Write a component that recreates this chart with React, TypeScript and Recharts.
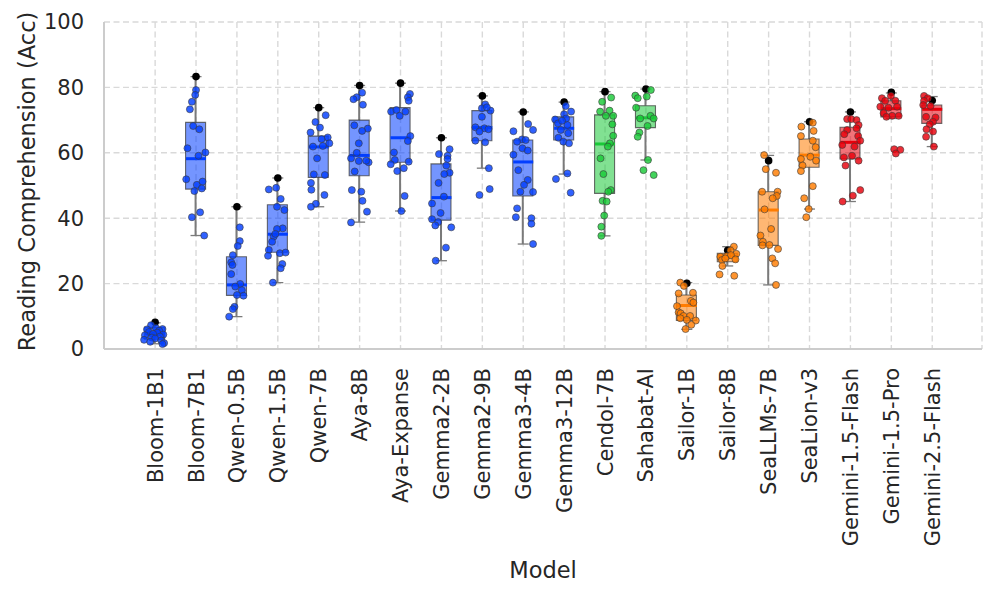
import React from 'react';
import { ComposedChart, XAxis, YAxis, CartesianGrid, Bar, Scatter, Cell } from 'recharts';

const models = [
  'Bloom-1B1', 'Bloom-7B1', 'Qwen-0.5B', 'Qwen-1.5B', 'Qwen-7B', 'Aya-8B', 'Aya-Expanse',
  'Gemma2-2B', 'Gemma2-9B', 'Gemma3-4B', 'Gemma3-12B', 'Cendol-7B', 'Sahabat-AI',
  'Sailor-1B', 'Sailor-8B', 'SeaLLMs-7B', 'SeaLion-v3', 'Gemini-1.5-Flash', 'Gemini-1.5-Pro', 'Gemini-2.5-Flash',
];
const family = [
  'blue', 'blue', 'blue', 'blue', 'blue', 'blue', 'blue', 'blue', 'blue', 'blue', 'blue',
  'green', 'green', 'orange', 'orange', 'orange', 'orange', 'red', 'red', 'red',
];
const q1 = [3.0, 48.9, 16.4, 29.6, 52.5, 53.0, 57.1, 39.4, 63.7, 46.8, 63.9, 47.6, 67.7, 8.7, 26.7, 31.7, 55.6, 58.1, 71.0, 69.0];
const median = [4.8, 58.2, 19.6, 35.1, 61.8, 59.2, 64.6, 46.3, 67.7, 57.2, 67.5, 62.7, 70.7, 13.3, 28.4, 42.5, 59.3, 63.2, 73.5, 73.3];
const q3 = [6.6, 69.3, 28.2, 44.1, 65.1, 70.0, 73.8, 56.6, 72.9, 63.9, 71.0, 71.6, 74.4, 16.5, 29.3, 48.1, 64.2, 67.8, 75.9, 74.6];
const whiskerLow = [1.6, 34.7, 9.9, 20.3, 43.5, 38.8, 42.2, 27.0, 55.3, 32.1, 53.5, 34.6, 57.8, 6.0, 25.4, 19.6, 42.8, 45.1, 70.5, 61.9];
const whiskerHigh = [8.0, 83.3, 43.5, 52.3, 73.8, 80.6, 81.3, 64.6, 77.4, 72.5, 75.5, 78.7, 79.5, 20.3, 31.3, 59.2, 69.5, 72.5, 78.3, 77.2];
const bestScore = [8.2, 83.3, 43.5, 52.3, 73.8, 80.6, 81.3, 64.6, 77.4, 72.5, 75.5, 78.7, 79.5, 20.1, 30.2, 57.6, 69.5, 72.5, 78.5, 76.0];
const yTicks = [0, 20, 40, 60, 80, 100];

// jittered observations: [x offset in category units, accuracy]
const bloom1b1Pts = [[-0.1, 7.3], [0.02, 6.4], [-0.2, 6.0], [0.18, 6.1], [0.1, 5.6], [-0.15, 5.2], [0.05, 5.0], [-0.05, 4.6], [0.2, 4.4], [-0.25, 4.2], [0.12, 3.8], [-0.08, 3.5], [0.0, 3.2], [-0.27, 2.8], [0.15, 2.6], [0.22, 1.8], [0.18, 1.5], [-0.12, 2.2]];
const bloom7b1Pts = [[0.0, 79.2], [-0.02, 77.7], [-0.1, 75.6], [-0.15, 73.3], [-0.07, 68.2], [0.08, 67.2], [-0.21, 61.4], [0.06, 59.1], [0.23, 60.1], [-0.24, 51.9], [0.02, 50.2], [0.16, 51.2], [-0.04, 48.3], [0.14, 49.1], [0.1, 41.8], [-0.1, 40.3], [0.2, 34.7]];
const qwen05Pts = [[0.07, 37.2], [0.07, 33.0], [0.02, 31.5], [-0.1, 28.7], [-0.14, 26.5], [-0.11, 25.7], [-0.14, 22.9], [0.08, 19.9], [-0.04, 19.1], [0.12, 18.0], [0.16, 16.3], [0.0, 16.5], [-0.06, 12.9], [-0.1, 12.2], [-0.19, 9.9]];
const qwen15Pts = [[-0.22, 48.8], [-0.04, 49.3], [0.07, 45.9], [-0.02, 43.5], [0.16, 42.5], [0.12, 36.9], [-0.02, 36.7], [-0.1, 34.4], [-0.14, 32.8], [-0.06, 35.2], [-0.22, 30.3], [-0.24, 28.5], [0.05, 29.3], [0.19, 29.5], [0.11, 26.0], [0.07, 24.7], [-0.12, 20.3]];
const qwen7Pts = [[0.17, 71.5], [-0.08, 69.4], [0.03, 67.7], [-0.2, 66.2], [0.22, 64.7], [0.07, 64.2], [0.26, 62.9], [0.1, 62.1], [-0.14, 61.9], [-0.04, 58.3], [-0.12, 53.4], [0.15, 53.2], [-0.19, 50.8], [-0.18, 48.7], [0.14, 47.1], [-0.07, 44.4], [-0.19, 43.5]];
const aya8Pts = [[0.06, 78.4], [-0.07, 77.0], [-0.15, 76.4], [0.08, 74.7], [-0.13, 68.4], [0.2, 67.4], [0.06, 66.7], [-0.02, 62.9], [-0.07, 60.0], [-0.21, 58.3], [-0.02, 57.5], [0.22, 57.1], [0.16, 57.6], [-0.12, 54.3], [-0.19, 48.6], [0.04, 48.1], [0.07, 45.3], [0.18, 42.0], [-0.21, 38.7]];
const ayaExpansePts = [[0.23, 78.0], [0.18, 77.0], [0.2, 75.9], [-0.23, 72.6], [-0.1, 73.1], [0.12, 72.6], [-0.02, 71.3], [0.24, 65.1], [0.18, 63.6], [-0.16, 60.1], [-0.14, 57.8], [0.2, 57.3], [-0.24, 56.5], [0.08, 55.3], [-0.08, 54.4], [0.1, 46.8], [0.02, 42.2]];
const gemma2_2Pts = [[0.2, 61.1], [-0.06, 59.6], [0.15, 59.1], [0.15, 58.1], [0.12, 56.1], [0.2, 53.9], [0.07, 53.5], [-0.07, 50.8], [0.06, 46.6], [-0.23, 44.5], [-0.02, 41.6], [-0.23, 39.7], [-0.08, 38.8], [-0.15, 37.8], [0.24, 37.2], [0.11, 31.0], [-0.14, 27.0]];
const gemma2_9Pts = [[0.07, 74.8], [-0.01, 73.6], [0.2, 72.9], [0.11, 73.9], [-0.01, 71.0], [-0.17, 67.8], [0.05, 67.5], [0.15, 67.2], [-0.07, 66.5], [-0.17, 63.7], [0.07, 63.2], [0.16, 55.3], [0.18, 48.9], [-0.07, 47.1]];
const gemma3_4Pts = [[0.12, 68.8], [0.24, 67.0], [-0.24, 66.6], [-0.03, 64.1], [0.06, 63.9], [-0.15, 63.4], [-0.24, 59.4], [-0.02, 61.4], [0.11, 60.7], [-0.12, 54.7], [0.11, 51.7], [0.02, 50.2], [-0.07, 48.1], [0.24, 48.0], [-0.15, 43.0], [-0.18, 40.3], [0.2, 40.0], [0.2, 38.3], [0.24, 32.1]];
const gemma3_12Pts = [[-0.22, 70.2], [-0.15, 69.0], [0.0, 71.8], [0.04, 74.3], [0.08, 68.5], [-0.08, 67.0], [-0.14, 64.6], [-0.02, 63.4], [0.12, 62.9], [0.08, 53.7], [-0.2, 52.0], [0.16, 47.8], [0.17, 72.6], [0.05, 70.5], [0.1, 66.0], [-0.05, 69.8]];
const cendolPts = [[0.15, 76.9], [-0.07, 75.6], [-0.12, 72.6], [0.11, 72.9], [0.02, 71.3], [0.2, 71.3], [0.18, 68.7], [0.2, 65.2], [0.12, 62.9], [0.07, 61.9], [-0.11, 58.3], [-0.04, 53.5], [0.14, 48.6], [0.08, 48.1], [-0.06, 45.3], [0.04, 45.1], [-0.02, 40.8], [-0.09, 37.4], [-0.09, 34.6]];
const sahabatPts = [[0.12, 79.2], [-0.26, 77.5], [-0.2, 76.7], [0.02, 77.2], [-0.24, 73.8], [0.11, 71.3], [0.19, 70.5], [-0.14, 70.5], [0.04, 68.2], [-0.16, 66.2], [-0.2, 64.9], [0.05, 57.8], [-0.06, 54.7], [0.19, 53.2]];
const sailor1Pts = [[-0.16, 20.3], [-0.07, 19.3], [0.15, 17.2], [-0.2, 17.0], [0.1, 14.7], [0.16, 14.2], [-0.24, 13.1], [-0.2, 11.2], [-0.15, 10.9], [-0.08, 10.1], [0.08, 10.1], [-0.16, 9.4], [0.0, 8.9], [0.22, 8.7], [0.11, 7.4], [-0.03, 6.1]];
const sailor8Pts = [[0.15, 31.3], [0.07, 30.1], [0.21, 29.1], [-0.18, 28.2], [-0.02, 28.4], [0.08, 28.7], [0.19, 27.4], [-0.14, 27.2], [-0.06, 27.7], [-0.13, 25.4], [-0.2, 22.8], [0.16, 22.4]];
const seallmsPts = [[-0.11, 59.3], [-0.07, 55.0], [0.18, 53.9], [-0.16, 48.1], [0.22, 48.1], [0.2, 46.8], [0.1, 46.1], [-0.1, 42.7], [0.06, 36.7], [-0.2, 34.7], [-0.14, 32.8], [-0.15, 31.7], [0.02, 31.8], [0.23, 30.6], [0.09, 27.7], [0.16, 26.2], [0.18, 19.6]];
const sealionPts = [[0.08, 69.2], [-0.2, 68.0], [0.1, 66.7], [-0.21, 65.1], [0.08, 63.7], [0.15, 61.7], [0.02, 58.8], [-0.21, 58.1], [0.16, 57.6], [-0.17, 56.1], [-0.21, 54.4], [0.08, 49.8], [-0.13, 46.1], [-0.02, 42.8], [-0.08, 40.3]];
const gemini15FlashPts = [[-0.08, 70.3], [0.02, 70.3], [0.15, 70.0], [0.2, 68.5], [-0.08, 67.0], [0.15, 67.5], [-0.15, 65.7], [0.19, 65.1], [-0.2, 62.4], [0.24, 63.7], [0.1, 61.9], [-0.16, 58.6], [0.04, 59.1], [0.2, 57.6], [-0.12, 56.1], [0.24, 48.6], [0.06, 46.9], [-0.19, 45.1]];
const gemini15ProPts = [[-0.23, 76.7], [-0.15, 75.9], [-0.01, 77.4], [0.1, 75.9], [-0.27, 74.1], [-0.07, 73.8], [0.14, 74.1], [-0.19, 72.1], [0.02, 71.3], [0.18, 71.3], [-0.12, 71.0], [0.07, 61.1], [0.22, 60.9], [0.11, 59.8]];
const gemini25FlashPts = [[-0.2, 77.4], [-0.11, 76.7], [-0.2, 75.9], [-0.22, 74.6], [-0.04, 74.3], [-0.15, 71.0], [0.08, 70.8], [0.02, 69.5], [-0.06, 68.7], [-0.14, 67.2], [0.02, 66.5], [-0.15, 64.9], [0.04, 61.9]];

const pointSets = [
  bloom1b1Pts, bloom7b1Pts, qwen05Pts, qwen15Pts, qwen7Pts, aya8Pts, ayaExpansePts,
  gemma2_2Pts, gemma2_9Pts, gemma3_4Pts, gemma3_12Pts, cendolPts, sahabatPts,
  sailor1Pts, sailor8Pts, seallmsPts, sealionPts, gemini15FlashPts, gemini15ProPts, gemini25FlashPts,
];

const palette: Record<string, string> = { blue: '#023eff', green: '#1ac938', orange: '#ff7c00', red: '#e8000b' };
const colorOf = (i: number) => palette[family[i]];

const FONT = '"DejaVu Sans", sans-serif';
const TEXT = '#262626';
const X_DOMAIN: [number, number] = [-1.25, 20.217];
const BOX_W = 20;

const boxData = models.map((_, i) => ({
  x: i,
  box: [q1[i], q3[i]],
  wl: [whiskerLow[i], q1[i]],
  wu: [q3[i], whiskerHigh[i]],
}));
const medianData = models.map((_, i) => ({ x: i, y: median[i], i }));
const capData = models.flatMap((_, i) => [
  { x: i, y: whiskerLow[i], i },
  { x: i, y: whiskerHigh[i], i },
]);
const bestData = models.map((_, i) => ({ x: i, y: bestScore[i], i }));
const pointData = pointSets.flatMap((set, i) => set.map(([dx, v]) => ({ x: i + dx, y: v, i })));

const XTick = (props: any) => {
  const { x, y, payload } = props;
  return (
    <text
      transform={`translate(${x},${y}) rotate(-90)`}
      textAnchor="end"
      dy="0.36em"
      fontSize={21}
      fontFamily={FONT}
      fill={TEXT}
    >
      {models[payload.value]}
    </text>
  );
};

const MedianShape = (props: any) => {
  const { cx, cy, payload } = props;
  return <line x1={cx - BOX_W / 2} x2={cx + BOX_W / 2} y1={cy} y2={cy} stroke={colorOf(payload.i)} strokeWidth={3} />;
};
const CapShape = (props: any) => {
  const { cx, cy } = props;
  return <line x1={cx - 5.5} x2={cx + 5.5} y1={cy} y2={cy} stroke="#7a7a7a" strokeWidth={1.3} />;
};
const PointShape = (props: any) => {
  const { cx, cy, payload } = props;
  return <circle cx={cx} cy={cy} r={3.5} fill={colorOf(payload.i)} fillOpacity={0.82} stroke="#3a3a3a" strokeWidth={0.6} />;
};
const BestShape = (props: any) => {
  const { cx, cy } = props;
  return <circle cx={cx} cy={cy} r={3.8} fill="#000" />;
};

export default function App() {
  return (
    <div style={{ position: 'absolute', left: 0, top: 0, width: 996, height: 596, background: '#fff' }}>
      <ComposedChart
        width={996}
        height={596}
        data={boxData}
        margin={{ top: 22, right: 14, left: 0, bottom: 0 }}
      >
        <CartesianGrid stroke="#d9d9d9" strokeWidth={1.4} strokeDasharray="6 3.5" />
        <XAxis
          dataKey="x"
          type="number"
          domain={X_DOMAIN}
          ticks={models.map((_, i) => i)}
          interval={0}
          height={247}
          tickLine={false}
          tickSize={0}
          tickMargin={19}
          tick={<XTick />}
          axisLine={{ stroke: '#cccccc', strokeWidth: 2 }}
        />
        <XAxis xAxisId="frameTop" orientation="top" dataKey="x" type="number" domain={X_DOMAIN} height={0} tick={false} tickLine={false} axisLine={{ stroke: '#cccccc', strokeWidth: 2 }} />
        <XAxis xAxisId="box" dataKey="x" type="number" domain={X_DOMAIN} hide />
        <XAxis xAxisId="wl" dataKey="x" type="number" domain={X_DOMAIN} hide />
        <XAxis xAxisId="wu" dataKey="x" type="number" domain={X_DOMAIN} hide />
        <YAxis
          dataKey="y"
          type="number"
          domain={[0, 100]}
          ticks={yTicks}
          width={104}
          tickLine={false}
          tickSize={0}
          tickMargin={20}
          tick={{ fontSize: 21, fill: TEXT, fontFamily: FONT }}
          axisLine={{ stroke: '#cccccc', strokeWidth: 2 }}
        />
        <YAxis yAxisId="frameRight" orientation="right" type="number" domain={[0, 100]} width={0} tick={false} tickLine={false} axisLine={{ stroke: '#cccccc', strokeWidth: 2 }} />

        <Bar xAxisId="wl" dataKey="wl" barSize={2} fill="#7a7a7a" isAnimationActive={false} />
        <Bar xAxisId="wu" dataKey="wu" barSize={2} fill="#7a7a7a" isAnimationActive={false} />
        <Bar xAxisId="box" dataKey="box" barSize={BOX_W} isAnimationActive={false} stroke="#3c3c3c" strokeOpacity={0.75} strokeWidth={1.1}>
          {models.map((m, i) => (
            <Cell key={m} fill={colorOf(i)} fillOpacity={0.55} />
          ))}
        </Bar>

        <Scatter data={medianData} shape={<MedianShape />} isAnimationActive={false} />
        <Scatter data={capData} shape={<CapShape />} isAnimationActive={false} />
        <Scatter data={bestData} shape={<BestShape />} isAnimationActive={false} />
        <Scatter data={pointData} shape={<PointShape />} isAnimationActive={false} />
      </ComposedChart>
      <svg width={996} height={596} style={{ position: 'absolute', left: 0, top: 0, pointerEvents: 'none' }}>
        <text
          transform="translate(35,181.5) rotate(-90)"
          textAnchor="middle"
          fontSize={22.5}
          fontFamily={FONT}
          fill={TEXT}
        >
          Reading Comprehension (Acc)
        </text>
        <text x={543} y={578} textAnchor="middle" fontSize={22.5} fontFamily={FONT} fill={TEXT}>
          Model
        </text>
      </svg>
    </div>
  );
}
